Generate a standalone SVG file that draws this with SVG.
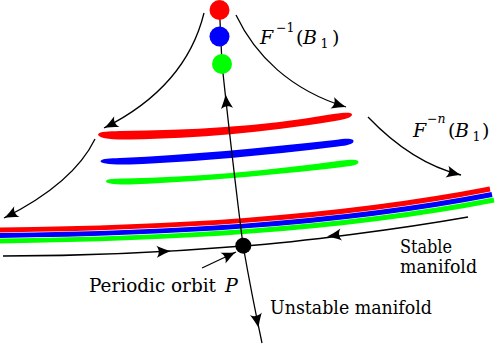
<svg xmlns="http://www.w3.org/2000/svg" xmlns:xlink="http://www.w3.org/1999/xlink" width="498" height="363" viewBox="0 0 498 363">
<style>
  .ln{fill:none;stroke:#000;stroke-width:1.3}
  .arr{marker-end:url(#ah)}
  .band{fill:none;stroke-width:5}
  text{font-family:'DejaVu Serif',serif;font-size:18px;fill:#000}
  .m{font-size:19px}
  .i{font-style:italic}
  .s{font-size:12.5px}
</style>
<defs>
  <path id="head" d="M0,0 C-4,-1 -9,-3.4 -14.5,-6 C-11.5,-2.5 -11.5,2.5 -14.5,6 C-9,3.4 -4,1 0,0 Z" fill="#000"/>
  <marker id="ah" markerUnits="userSpaceOnUse" orient="auto" viewBox="-15 -7 16 14" markerWidth="16" markerHeight="14" refX="0" refY="0">
    <use xlink:href="#head"/>
  </marker>
</defs>

<g id="bands-bottom">
  <path class="band" stroke="#ff0000" d="M0,230 C160,228 330,220 490,189"/>
  <path class="band" stroke="#0000ff" d="M0,235.5 C160,233.5 332,225.5 492,194.5"/>
  <path class="band" stroke="#00ff00" d="M0,241 C160,239 334,231 494,200"/>
</g>

<g id="bands-upper">
  <path fill="#ff0000" d="M98,134.5 C100,131 108,131.5 120,131 C190,130 260,127 330,114.5 C345,112 352,112 352,114.5 C352,117 347,119 335,121 C260,133 200,138 130,139.5 C110,140 98,138 98,134.5 Z"/>
  <path fill="#0000ff" d="M100.5,161 C102,158.5 110,158.5 120,158 C190,155 260,148 335,140 C348,138 354,138.5 353.5,141.5 C353,144 347,145.5 338,146.5 C260,156 200,161.5 130,164.5 C110,165 100,163.5 100.5,161 Z"/>
  <path fill="#00ff00" d="M106,181 C107,178.5 115,178.8 125,178.5 C195,177 265,171 342,160.5 C353,159 359,159.5 358.5,162.3 C358,165 352,166 343,167 C265,176 205,181 135,184.3 C115,185 105,183.5 106,181 Z"/>
</g>

<g id="connectors">
  <path class="ln" d="M219.5,10 L222,64 C228,120 236,190 243,245 C250,285 256,315 262,343"/>
  <use xlink:href="#head" transform="translate(225.5,94) rotate(-96)"/>
  <use xlink:href="#head" transform="translate(258.6,328) rotate(79)"/>
  <path class="ln" d="M3,256 C80,256 170,252 243,246"/>
  <use xlink:href="#head" transform="translate(171,251) rotate(-3)"/>
  <path class="ln" d="M243,246 C300,242 400,229 468,217"/>
  <use xlink:href="#head" transform="translate(327,236.5) rotate(172)"/>
  <path class="ln arr" d="M202,268 L236,252"/>
  <path class="ln arr" d="M204,13 C190,70 150,105 104,128"/>
  <path class="ln arr" d="M95,139 C80,170 50,195 4,218"/>
  <path class="ln arr" d="M236,15 C255,55 290,90 346,107"/>
  <path class="ln arr" d="M368,117 C390,140 420,165 461,175"/>
</g>

<g id="dot-red"><circle cx="219.5" cy="10" r="10" fill="#ff0000"/></g>
<g id="dot-blue"><circle cx="219.5" cy="36.5" r="10" fill="#0000ff"/></g>
<g id="dot-green"><circle cx="222" cy="64" r="10" fill="#00ff00"/></g>
<g id="orbit-P"><circle cx="243.3" cy="245.7" r="8" fill="#000"/></g>

<g id="labels">
  <text class="m"><tspan class="i" x="260" y="44">F</tspan><tspan class="s" x="276" y="32">−1</tspan><tspan x="296" y="44">(</tspan><tspan class="i" x="303" y="44">B</tspan><tspan class="s" x="320.5" y="48">1</tspan><tspan x="332" y="44">)</tspan></text>
  <text class="m"><tspan class="i" x="413" y="137">F</tspan><tspan class="s" x="427" y="123">−<tspan class="i">n</tspan></tspan><tspan x="448" y="137">(</tspan><tspan class="i" x="455" y="137">B</tspan><tspan class="s" x="472.5" y="141">1</tspan><tspan x="482" y="137">)</tspan></text>
  <text x="89" y="292" textLength="127" lengthAdjust="spacingAndGlyphs">Periodic orbit</text>
  <text class="i m" x="225" y="292">P</text>
  <text x="400" y="252.5" textLength="52" lengthAdjust="spacingAndGlyphs">Stable</text>
  <text x="400" y="272.5" textLength="77" lengthAdjust="spacingAndGlyphs">manifold</text>
  <text x="270" y="314" textLength="162" lengthAdjust="spacingAndGlyphs">Unstable manifold</text>
</g>
</svg>
